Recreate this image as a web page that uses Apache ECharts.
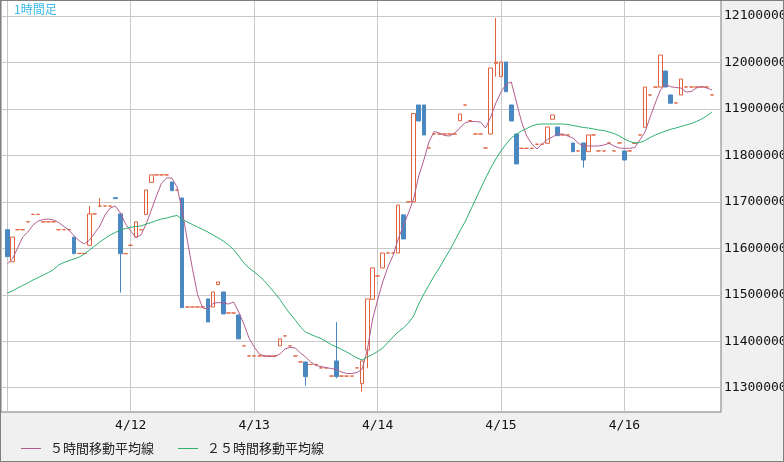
<!DOCTYPE html>
<html><head><meta charset="utf-8">
<script src="https://cdn.jsdelivr.net/npm/echarts@6/dist/echarts.min.js"></script>
<style>
html,body{margin:0;padding:0;background:#f0f0f0;}
#c{width:784px;height:462px;position:absolute;left:0;top:0;}
#frame{position:absolute;left:0;top:0;width:784px;height:462px;box-sizing:border-box;border:1px solid #7f7f7f;pointer-events:none;}
</style></head><body><div id="c"></div><div id="frame"></div>
<script>
// candle index 0 = 4/11 00:00, one candle per hour
const dayTickIndex = [0, 24, 48, 72, 96, 120];
const dayLabelIndex = [24, 48, 72, 96, 120];
const dayLabels = ['4/12', '4/13', '4/14', '4/15', '4/16'];
const priceTicks = [11300000, 11400000, 11500000, 11600000, 11700000, 11800000, 11900000, 12000000, 12100000];

const open = [
11640000,11571000,11640000,11640000,11657000,11673000,11673000,11657000,11657000,11657000,
11640000,11640000,11640000,11624000,11589000,11589000,11606500,11674000,11691000,11691000,
11691000,11709000,11674000,11588500,11606500,11624000,11640000,11673000,11742000,11758000,
11758000,11758000,11742700,11725500,11708300,11473700,11473700,11473700,11473700,11491000,
11473700,11521800,11506000,11460800,11460800,11456500,11390000,11368300,11368300,11368300,
11368300,11368300,11368300,11390000,11411400,11390000,11368300,11355400,11355400,11350000,
11350000,11342500,11342500,11325000,11357500,11325000,11325000,11325000,11342500,11308700,
11381000,11490300,11540500,11557700,11590000,11590000,11590000,11672000,11700000,11700000,
11908500,11908500,11816000,11846000,11846000,11846000,11846000,11846000,11874700,11908500,
11874700,11846000,11846000,11816000,11846000,11998000,11969400,12001000,11908500,11846000,
11815200,11815200,11815200,11824000,11824000,11826000,11877700,11861000,11844000,11844000,
11826700,11809500,11826700,11808000,11844000,11809500,11809500,11826700,11809500,11826700,
11809500,11809500,11826000,11844000,11860500,11930000,11947000,11947000,11981600,11930000,
11912800,11930000,11947200,11947200,11947200,11947200,11947200,11930000];

const close = [
11582000,11624000,11640000,11640000,11657000,11673000,11673000,11657000,11657000,11657000,
11640000,11640000,11640000,11588500,11589000,11589000,11674000,11674000,11691000,11691000,
11691000,11707000,11588500,11588500,11606500,11657000,11640000,11725500,11758000,11758000,
11758000,11758000,11724000,11725500,11472300,11473700,11473700,11473700,11473700,11441500,
11506000,11527600,11458700,11460800,11460800,11405000,11390000,11368300,11368300,11368300,
11368300,11368300,11368300,11405000,11411400,11390000,11368300,11355400,11323800,11350000,
11350000,11342500,11342500,11325000,11323800,11325000,11325000,11325000,11342500,11357500,
11491000,11557700,11540500,11589900,11590000,11590000,11693000,11620000,11700000,11890000,
11874000,11844000,11816000,11846000,11846000,11846000,11846000,11846000,11889000,11908500,
11874700,11846000,11846000,11816000,11988000,12001000,12001000,11937000,11874000,11781500,
11815200,11815200,11815200,11824000,11824000,11861000,11887000,11842400,11844000,11844000,
11808000,11809500,11790000,11844000,11844000,11809500,11809500,11826700,11809500,11826700,
11790000,11809500,11826000,11844000,11947000,11930000,11947000,12016000,11947200,11912200,
11912800,11964400,11947200,11947200,11947200,11947200,11947200,11930000];

const low = [
11582000,11571000,11640000,11640000,11657000,11673000,11673000,11657000,11657000,11657000,
11640000,11640000,11640000,11588500,11589000,11589000,11606500,11674000,11691000,11691000,
11691000,11707000,11504500,11588500,11606500,11624000,11640000,11673000,11742000,11758000,
11758000,11758000,11724000,11725500,11472300,11473700,11473700,11473700,11473700,11441500,
11473700,11521800,11458700,11460800,11460800,11405000,11390000,11368300,11368300,11368300,
11368300,11368300,11368300,11390000,11411400,11390000,11368300,11355400,11304300,11350000,
11350000,11342500,11342500,11325000,11320000,11325000,11325000,11325000,11342500,11291500,
11342000,11490300,11540500,11557700,11590000,11590000,11590000,11620000,11700000,11700000,
11874000,11844000,11816000,11846000,11846000,11846000,11846000,11846000,11874700,11908500,
11874700,11846000,11846000,11816000,11846000,11969400,11969400,11937000,11874000,11781500,
11815200,11815200,11815200,11824000,11824000,11826000,11877700,11842400,11844000,11844000,
11808000,11809500,11773600,11808000,11844000,11809500,11809500,11826700,11809500,11826700,
11790000,11809500,11826000,11844000,11860500,11930000,11947000,11947000,11947200,11912200,
11912800,11930000,11947200,11947200,11947200,11947200,11947200,11930000];

const high = [
11640000,11624000,11640000,11640000,11657000,11673000,11673000,11657000,11657000,11657000,
11640000,11640000,11640000,11624000,11589000,11589000,11691000,11674000,11708000,11691000,
11691000,11709000,11674000,11588500,11606500,11657000,11640000,11725500,11758000,11758000,
11758000,11758000,11742700,11725500,11708300,11473700,11473700,11473700,11473700,11491000,
11506000,11527600,11506000,11460800,11460800,11456500,11390000,11368300,11368300,11368300,
11368300,11368300,11368300,11405000,11411400,11390000,11368300,11355400,11355400,11350000,
11350000,11342500,11342500,11325000,11441400,11325000,11325000,11325000,11342500,11357500,
11491000,11557700,11540500,11589900,11590000,11590000,11693000,11672000,11700000,11890000,
11908500,11908500,11816000,11846000,11846000,11846000,11846000,11846000,11889000,11908500,
11874700,11846000,11846000,11816000,11988000,12095700,12001000,12001000,11908500,11846000,
11815200,11815200,11815200,11824000,11824000,11861000,11887000,11861000,11844000,11844000,
11826700,11809500,11826700,11844000,11844000,11809500,11809500,11826700,11809500,11826700,
11809500,11809500,11826000,11844000,11947000,11930000,11947000,12016000,11981600,11930000,
11912800,11964400,11947200,11947200,11947200,11947200,11947200,11930000];

const ma5 = [
11566200,11577000,11600600,11624300,11635100,11650100,11658800,11662000,11663100,11660900,
11655500,11646900,11639400,11626500,11615700,11609300,11617900,11632900,11648000,11671700,
11686700,11691000,11676000,11652300,11637200,11623200,11628600,11652300,11682400,11712600,
11740500,11751300,11751300,11731900,11682400,11616800,11556100,11500100,11471500,11469300,
11481200,11483300,11482300,11480100,11484400,11462900,11437100,11406900,11387600,11372500,
11368200,11367100,11367100,11372500,11383200,11386900,11385400,11374600,11366000,11355300,
11347700,11345600,11343000,11341300,11339100,11333700,11330500,11330500,11332700,11340200,
11381100,11445700,11488700,11527500,11559700,11584500,11620000,11648000,11676000,11706100,
11755600,11790100,11828800,11851400,11848200,11842800,11841700,11848200,11858900,11870300,
11872900,11872900,11871800,11858900,11882600,11912700,11936400,11953600,11957900,11914900,
11871800,11841700,11824500,11813700,11824500,11834200,11839600,11846000,11846000,11841700,
11837400,11826600,11820200,11820200,11820200,11820200,11822300,11826000,11820200,11815900,
11815200,11815200,11817000,11833100,11850300,11882600,11912700,11940700,11952600,11947800,
11946100,11945000,11936400,11937500,11945000,11948300,11945000,11940700];

const ma25 = [
11503800,11508100,11514500,11519900,11525300,11531800,11537100,11542500,11547900,11554400,
11564100,11569400,11573700,11577000,11581300,11587700,11596300,11604900,11613600,11621100,
11628600,11634000,11639400,11642600,11645200,11646900,11648000,11652300,11655500,11659800,
11663100,11665200,11668400,11670600,11662000,11656600,11651200,11645800,11640500,11635100,
11628600,11622200,11615700,11607100,11597400,11583400,11568400,11557600,11549000,11540400,
11529600,11516700,11503800,11489800,11473600,11458600,11445700,11430600,11419800,11414500,
11410200,11405800,11399400,11392900,11387600,11382200,11376800,11370300,11363900,11359600,
11366000,11371400,11377900,11385400,11397200,11409100,11419800,11428500,11439200,11454300,
11480100,11501600,11521000,11540400,11557600,11577000,11595300,11615700,11637200,11656600,
11680300,11704000,11727600,11751300,11772800,11792200,11809400,11824500,11837400,11846000,
11852500,11857900,11863200,11866900,11867500,11867500,11867500,11867500,11867500,11866500,
11864300,11862200,11860000,11858900,11856800,11854600,11853500,11850300,11847100,11841700,
11835300,11829900,11826600,11827700,11832000,11838500,11843900,11848200,11852500,11856100,
11858900,11862200,11865400,11868600,11872900,11878300,11884800,11893400];

const UP = '#e0613c', DOWN = '#4a88c2', MA5C = '#b35e8f', MA25C = '#2eb06f';
const FONT_NUM = 'DejaVu Sans Mono';
const FONT_JP = 'Noto Sans CJK JP';

const candleData = open.map((o, i) => [i, o, close[i], low[i], high[i]]);
const ma5Data = ma5.map((v, i) => [i, v]);
const ma25Data = ma25.map((v, i) => [i, v]);

const chart = echarts.init(document.getElementById('c'), null, {renderer: 'canvas'});
chart.setOption({
  animation: false,
  backgroundColor: '#f0f0f0',
  title: {
    text: '1時間足', left: 14, top: 3, padding: 0,
    textStyle: {color: '#3bb8e8', fontSize: 12, fontWeight: 'normal', fontFamily: FONT_JP}
  },
  legend: {
    left: 16, top: 437, itemWidth: 20, itemHeight: 1, itemGap: 24, icon: 'rect',
    textStyle: {fontSize: 13, fontFamily: FONT_JP, color: '#222', padding: [0, 0, 0, 4]},
    data: ['５時間移動平均線', '２５時間移動平均線']
  },
  grid: {
    left: 1, top: 0, right: 63, bottom: 50, show: true, containLabel: false,
    outerBoundsMode: 'none',
    backgroundColor: '#ffffff', borderColor: '#7a7a7a', borderWidth: 1
  },
  xAxis: {
    type: 'value', min: -1.225, max: 138.775,
    axisLine: {show: false},
    axisTick: {show: false, customValues: dayTickIndex},
    splitLine: {show: true, lineStyle: {color: '#c8c8c8', width: 1}},
    axisLabel: {
      customValues: dayLabelIndex, margin: 7,
      formatter: v => dayLabels[dayLabelIndex.indexOf(v)],
      fontSize: 13, fontFamily: FONT_NUM, color: '#111'
    }
  },
  yAxis: {
    type: 'value', position: 'right', min: 11247650, max: 12134440, scale: true,
    axisLine: {show: false},
    axisTick: {show: false, customValues: priceTicks},
    splitLine: {show: true, lineStyle: {color: '#c8c8c8', width: 1}},
    axisLabel: {
      customValues: priceTicks, margin: 3,
      formatter: v => String(v),
      fontSize: 13, fontFamily: FONT_NUM, color: '#111'
    }
  },
  series: [
    {
      type: 'candlestick', data: candleData, barWidth: 4, z: 2,
      itemStyle: {
        color: 'rgba(255,255,255,0)', color0: DOWN,
        borderColor: UP, borderColor0: DOWN, borderColorDoji: UP, borderWidth: 1
      }
    },
    {
      name: '５時間移動平均線', type: 'line', data: ma5Data, symbol: 'none', z: 3,
      lineStyle: {color: MA5C, width: 1}, itemStyle: {color: MA5C}
    },
    {
      name: '２５時間移動平均線', type: 'line', data: ma25Data, symbol: 'none', z: 3,
      lineStyle: {color: MA25C, width: 1}, itemStyle: {color: MA25C}
    }
  ]
});
</script>
</body></html>
